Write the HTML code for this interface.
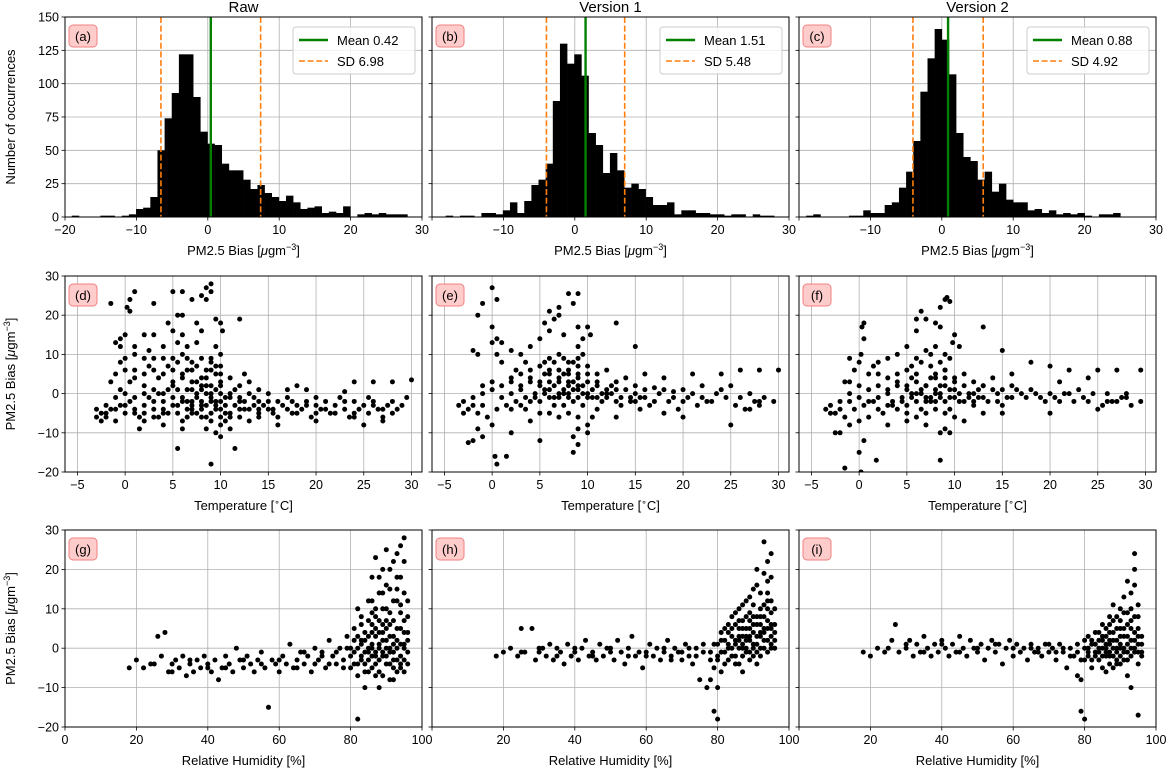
<!DOCTYPE html>
<html><head><meta charset="utf-8"><style>
body{margin:0;background:#fff}
svg{display:block;font-family:"Liberation Sans","DejaVu Sans",sans-serif}
</style></head><body>
<svg id="fig" width="1168" height="770"></svg>
<script>
// ===== data =====
const histStart=[-19.05,-18.08,-19.0];
const histA=[1,0,0,0,1,1,0,1,2,6,7,15,50,74,93,122,122,90,64,55,54,40,35,35,28,21,24,18,15,12,16,11,6,7,8,3,4,3,8,0,2,3,2,3,2,2,2];
const histB=[1,0,1,1,0,3,3,2,5,11,3,12,24,28,40,87,130,115,122,106,63,54,33,48,35,22,25,21,15,9,9,11,2,5,5,3,3,2,2,1,2,2,0,2,1,1];
const histC=[1,2,0,0,0,0,1,1,5,3,3,9,11,22,34,57,94,119,141,133,107,63,45,42,28,34,19,25,13,11,11,5,6,3,5,2,3,2,3,1,0,2,2,3];
const means=[0.42,1.51,0.88];
const sds=[6.98,5.48,4.92];
const titles=["Raw","Version 1","Version 2"];
const ptsD=[[0.5,24],[1,26],[-1.5,23],[0.2,22],[0.5,21],[3,23],[5,26],[6,26],[7,24],[8,25],[8.5,27],[9,28],[8.5,24],[9,26],[6,20],[7.5,18],[5.5,20],[4.5,18],[8,16],[9.5,19],[12,19],[10,18],[10.2,16],[5,16],[6,15],[3,15],[2,15],[0,15],[-0.5,14],[-1,13],[-0.5,12],[1,12],[2.5,11],[4,12],[5.5,13],[6.5,12],[7.5,13],[9.5,12],[10,10],[0,9],[1,10],[-0.5,8],[2,9],[3,9],[4,9],[5,9],[6,10],[6.5,9],[7,8],[8,9],[9,8],[10,7],[-1.5,3],[-1,5],[0,6],[1,4],[2,5],[3,6],[4,5],[5,6],[6,5],[7,6],[8,4],[9,6],[10,3],[11,4],[12,2],[13,3],[14,1],[12.5,5],[15,0],[17,1],[18,2],[20,-1],[19,1],[17.5,-2],[24,3],[26,3],[28,3],[30,3.5],[23,0.5],[25.5,-1],[-3,-4],[-2.5,-5],[-2,-3],[-2,-6],[-1.5,-4],[-1,-7],[-0.5,-3],[0,-5],[0.5,-2],[1,-4],[1.5,-6],[2,-3],[2.5,-1],[3,-4],[3.5,-6],[4,-2],[4.5,-5],[5,-1],[5.5,-3],[6,-7],[6.5,-2],[7,-4],[7.5,0],[8,-3],[8.5,-6],[9,-1],[9.5,-4],[10,-2],[10.5,-5],[11,-1],[11.5,-3],[12,-6],[12.5,-2],[13,-4],[13.5,-1],[14,-5],[14.5,-3],[15,-2],[15.5,-4],[16,-6],[16.5,-3],[17,-1],[17.5,-5],[18,-3],[18.5,-4],[19,-2],[19.5,-6],[20,-3],[20.5,-4],[21,-2],[21.5,-5],[22,-3],[22.5,-1],[23,-4],[23.5,-6],[24,-2],[24.5,-4],[25,-3],[25.5,-5],[26,-2],[26.5,-4],[27,-6],[27.5,-3],[28,-5],[28.5,-4],[29,-3],[29.5,-1],[6,-1],[7,-2],[8,1],[9,-2],[10,0],[6.5,1],[7.5,3],[8.5,2],[9.5,-3],[5,2],[4,0],[3,1],[2,0],[1,-1],[0,0],[-1,-1],[7,-5],[8,-6],[9,-7],[10,-8],[11,-9],[8.5,-9],[9.5,-10],[6,-9],[4,-8],[2,-7],[-2.5,-7],[1.5,-9],[5.5,-14],[9,-18],[11.5,-14],[10,-11],[10.5,-7],[11,-6],[12,-4],[13,-7],[14,-6],[16,-8],[20,-7],[25,-8],[27,-7],[24,-6],
[3,-2],[3.5,0],[4,-4],[4.5,1],[5,-3],[5,3],[5.5,-5],[5.5,1],[6,-2],[6,4],[6.5,-4],[6.5,-6],[7,1],[7,-3],[7,3],[7.5,-5],[7.5,-1],[8,-2],[8,2],[8,-4],[8.5,0],[8.5,-3],[8.5,4],[9,-5],[9,2],[9,0],[9.5,-2],[9.5,1],[9.5,5],[10,-4],[10,-6],[10,2],[10.5,-1],[10.5,-3],[11,0],[11,-5],[11.5,1],[12,-2],[12.5,-4],[13,0],[13.5,-3],[14,-2],[15,-4],[15.5,-5],[16,-2],[17,-4],[18,-5],[19,-3],[20,-5],[21,-4],[22,-5],[23,-2],[24,-5],[26,-3],[27,-4],[28,-2],[2,2],[1,6],[0.5,3],[-0.5,1],[2.5,7],[3.5,4],[4.5,7],[5.5,8],[6.5,6],[7.5,7],[8.5,6],[9,9],[9.5,7],[10,5],[-1,-4],[-2,-5],[-3,-6],[0,-3],[1,-5],[2,-5],[3,-6],[4,-5],[12,-1],[14,-4]];
const ptsE=[[0,27],[-1,23],[0.5,24],[-1.5,20],[0,17],[0.5,14],[1,13],[0,13],[-2,11],[-1.5,10],[0.5,10],[1,8],[6,21],[7,22],[8,25.5],[9,25.5],[8.5,23],[7,20],[6.5,19],[5.5,18],[6,16],[9,17],[10,17],[10.3,15],[7.5,15],[9.5,14],[13,18],[15,12],[5,14],[4,12],[3,10],[2,11],[2.5,6],[3.5,8],[5,7],[6,9],[7,10],[8,8],[9,9],[10,7],[11,5],[12,6],[13,3],[14,4],[16,5],[18,4],[21,5],[24,5],[26,6],[28,6],[30,6],[25,2],[22,2],[20,1],[19,0.5],[17,1.5],[15,0],[13.5,-1],[12,1],[11,2],[10,3],[9,4],[8,5],[7,4],[6,3],[5,2],[4,3],[3,1],[2,0],[1,2],[0,1],[-1,0],[-2,-1],[-3,-2],[-3.5,-3],[-2.5,-4],[-1.5,-5],[-0.5,-6],[0.5,-4],[1.5,-3],[2.5,-2],[3.5,-4],[4.5,-1],[5.5,0],[6.5,-1],[7.5,1],[8.5,-2],[9.5,0],[10.5,-1],[11.5,-2],[12.5,0],[13.5,-3],[14.5,-2],[15.5,-1],[16.5,-3],[17.5,0],[18.5,-2],[19.5,-4],[20.5,-1],[21.5,-3],[22.5,-2],[23.5,0],[24.5,-1],[25.5,-3],[26.5,-4],[27.5,-2],[28.5,-1],[29.5,-2],[25,-8],[27,-4],[28,-3],[6,1],[7,0],[8,2],[9,1],[10,-1],[7,6],[8,3],[9,2],[6,5],[7.5,-3],[8,-5],[9,-6],[10,-8],[9,-9],[8.5,-11],[9,-13],[10,-10],[4,-7],[2,-10],[0,-8],[-1,-11],[-2,-12],[-2.5,-12.5],[-1.5,-9],[0.3,-16],[0.5,-18],[1.5,-16],[5,-12],[8.5,-15],[10.5,-6],[11,-4],[13,-6],[15.5,-4],[20,-6],[18,-5],
[3,2],[3.5,-1],[4,4],[4.5,0],[5,3],[5,-2],[5.5,5],[5.5,1],[6,-1],[6,6],[6.5,2],[6.5,-3],[7,3],[7,-1],[7.5,5],[7.5,0],[8,-1],[8,6],[8,0],[8.5,3],[8.5,1],[9,-1],[9,5],[9,7],[9.5,2],[9.5,-3],[10,0],[10,5],[10.5,1],[11,-1],[11,3],[11.5,0],[12,-1],[12.5,2],[13,-2],[14,1],[14.5,-1],[15,2],[16,-1],[17,-2],[18,1],[19,-1],[20,-2],[21,0],[22,-1],[23,-2],[24,1],[26,-1],[27,0],[28,-2],[2,4],[1,-1],[0,3],[-1,2],[-2,-3],[-3,-5],[-1,-3],[2,-4],[3,-3],[4,-2],[5,-5],[6,-5],[7,-6],[4,6],[3,5],[2,3],[5.5,8],[6.5,8],[7.5,9],[8.5,8],[9,12],[9.5,10],[12,0],[13,1],[15,-2],[16,1]];
const ptsF=[[-1,9],[-0.5,6],[-1.5,3],[0,8],[0.2,10],[0.5,14],[0.3,17],[0.5,18],[1,5],[1.5,7],[2,8],[3,9],[4,10],[5,12],[6,16],[6,19],[6.5,21],[7,19],[8,18],[8.5,17],[8.5,22],[9,24],[9.2,24.5],[9.5,23.5],[10,15],[9.8,13],[10.5,12],[8,12],[7.5,10],[7,11],[6,9],[5,6],[13,17],[15,11],[18,8],[20,7],[22,6],[25,6],[27,6],[29.5,6],[24,4],[21,3],[16,5],[14,4],[13,2],[12,3],[11,5],[10,4],[9,6],[8,4],[7,2],[6,3],[5,1],[4,2],[3,0],[2,-1],[1,1],[0,-1],[-1,0],[-2,-2],[-3,-3],[-3.5,-4],[-2.5,-5],[-1.5,-6],[-0.5,-4],[0.5,-3],[1.5,-2],[2.5,-5],[3.5,-3],[4.5,-2],[5.5,-1],[6.5,0],[7.5,-2],[8.5,0],[9.5,-1],[10.5,-2],[11.5,0],[12.5,-1],[13.5,-2],[14.5,0],[15.5,-1],[16.5,1],[17.5,-1],[18.5,0],[19.5,-2],[20.5,-1],[21.5,0],[22.5,-2],[23.5,-1],[24.5,0],[25.5,-3],[26.5,-2],[27.5,-1],[28.5,-3],[29.5,-2],[28,-1],[25,-4],[26,-2],[9,2],[8,1],[7,-1],[6,0],[10,1],[8,-4],[9,-5],[10,-6],[9,-9],[8.5,-10],[9.5,-10],[7,-8],[5,-7],[3,-8],[1,-6],[0,-7],[-1,-8],[-2,-10],[-2.5,-10],[0,-15],[0.5,-12],[-1.5,-19],[0.2,-20],[1.8,-17],[8.5,-17],[11,-7],[13,-5],[15,-5],[20,-5],[12,-3],
[3,1],[3.5,-2],[4,3],[4.5,-1],[5,2],[5,-3],[5.5,4],[5.5,0],[6,-2],[6,5],[6.5,1],[6.5,-4],[7,2],[7,-2],[7.5,4],[7.5,-1],[8,-2],[8,5],[8,0],[8.5,2],[8.5,-1],[9,-2],[9,4],[9,6],[9.5,1],[9.5,-4],[10,-1],[10,3],[10.5,0],[11,-2],[11,2],[11.5,-1],[12,0],[12.5,1],[13,-1],[14,1],[14.5,-2],[15,1],[16,-1],[17,0],[18,1],[19,-1],[20,0],[21,-2],[22,0],[23,1],[24,-2],[26,0],[27,-2],[28,0],[2,2],[1,-2],[0,2],[-1,3],[-2,-4],[-3,-5],[-1,-2],[2,-4],[3,-3],[4,-4],[5,-5],[6,-6],[7,-5],[4,5],[3,4],[2,5],[5.5,7],[6.5,8],[7.5,7],[8.5,8],[9,10],[9.5,9],[12,-2],[13,2],[15,-3],[16,2]];
const ptsG=[[18,-5],[20,-3],[22,-5],[24,-4],[26,3],[27,-2],[28,4],[29,-6],[30,-4],[31,-3],[32,-5],[33,-2],[34,-7],[35,-4],[36,-6],[37,-3],[38,-5],[39,-2],[40,-4],[41,-6],[42,-3],[43,-8],[44,-5],[45,-2],[46,-4],[47,-6],[48,0],[49,-3],[50,-5],[51,-2],[52,-4],[53,-6],[54,-3],[55,-1],[56,-5],[57,-15],[58,-3],[59,-4],[60,-6],[61,-2],[62,-4],[63,1],[64,-5],[65,-3],[66,-1],[67,-4],[68,-2],[69,-6],[70,0],[71,-3],[72,-1],[73,-5],[74,2],[75,-2],[76,-4],[77,0],[78,-3],[79,3],[80,-2],[81,-4],[81,5],[82,0],[82,10],[83,-3],[83,6],[84,2],[84,-6],[85,12],[85,-1],[86,4],[86,18],[86,-5],[87,-2],[87,8],[87,23],[88,1],[88,14],[88,-3],[89,6],[89,-7],[89,20],[90,0],[90,10],[90,25],[90,-4],[91,3],[91,15],[91,-8],[92,7],[92,-1],[92,22],[92,-5],[93,2],[93,12],[93,-3],[93,18],[94,5],[94,-2],[94,26],[94,9],[95,0],[95,14],[95,-6],[95,28],[95,4],[96,2],[96,-1],[84,-10],[82,-18],[88,-10],[86,9],[89,2],[91,-1],[92,1],[93,-6],[94,-4],[90,5],[87,3],[85,0],[83,2],[96,8],[91,6],[89,-2],[88,4],[87,-4],[86,1],
[80,0],[80,-5],[81,-1],[81,2],[82,-4],[82,3],[82,-7],[83,1],[83,-2],[83,8],[84,-1],[84,4],[84,-4],[85,3],[85,-3],[85,7],[85,-6],[86,0],[86,-2],[86,6],[86,12],[87,-1],[87,5],[87,10],[87,-7],[88,0],[88,7],[88,-6],[88,18],[89,-1],[89,4],[89,10],[89,14],[90,2],[90,-2],[90,7],[90,16],[91,0],[91,-4],[91,9],[91,20],[92,3],[92,-3],[92,12],[92,-8],[93,0],[93,5],[93,15],[93,24],[94,1],[94,-5],[94,11],[94,18],[95,1],[95,-3],[95,7],[95,22],[96,4],[96,-4],[96,12],[70,-4],[72,-2],[74,-4],[76,-1],[78,-5],[79,0],[65,-5],[67,-1],[60,-3],[55,-4],[50,-3],[45,-5],[40,-5],[35,-3],[30,-6],[25,-4]];
const ptsH=[[18,-2],[20,-1],[22,0],[24,-2],[25,5],[26,-1],[28,5],[29,-3],[30,-1],[31,0],[32,-2],[33,1],[34,-3],[35,0],[36,-1],[37,-4],[38,1],[39,-2],[40,-1],[41,-3],[42,0],[43,2],[44,-2],[45,-1],[46,-3],[47,1],[48,-2],[49,0],[50,-1],[51,-3],[52,2],[53,-1],[54,-4],[55,0],[56,3],[57,-2],[58,-1],[59,-5],[60,-1],[61,1],[62,-2],[63,0],[64,-3],[65,-1],[66,2],[67,-2],[68,0],[69,-1],[70,-3],[71,1],[72,-2],[73,-4],[74,0],[75,-8],[76,-1],[77,-10],[78,-3],[79,1],[79,-16],[80,-2],[80,-18],[81,-6],[81,2],[82,-1],[82,5],[83,-3],[83,4],[84,8],[84,0],[85,-2],[85,6],[86,2],[86,-4],[86,10],[87,0],[87,7],[87,3],[88,12],[88,-1],[88,5],[89,2],[89,9],[89,-3],[90,4],[90,15],[90,0],[91,6],[91,1],[91,20],[92,3],[92,10],[92,-2],[93,8],[93,27],[93,2],[94,5],[94,14],[94,-1],[94,22],[95,3],[95,9],[95,0],[95,18],[96,6],[96,2],[90,8],[89,5],[88,2],[87,-6],[86,5],[85,2],[84,3],[83,0],[91,-4],[92,6],[93,4],[94,12],[95,5],
[80,1],[80,-3],[81,-1],[81,4],[82,2],[82,-4],[83,1],[83,6],[84,-2],[84,5],[85,1],[85,-4],[85,9],[86,0],[86,3],[86,7],[87,-2],[87,1],[87,5],[87,11],[88,0],[88,3],[88,8],[89,-1],[89,3],[89,7],[89,13],[90,1],[90,-2],[90,6],[90,11],[91,3],[91,-1],[91,8],[91,16],[92,0],[92,4],[92,8],[92,14],[93,0],[93,5],[93,11],[93,19],[94,2],[94,7],[94,10],[94,17],[95,1],[95,6],[95,12],[95,24],[96,4],[96,0],[96,10],[70,-1],[72,0],[74,-2],[76,1],[78,-1],[79,-5],[65,0],[67,-3],[60,-2],[55,-2],[50,0],[45,-2],[40,0],[35,-2],[30,0],[25,-1],[78,-8],[80,-10]];
const ptsI=[[18,-1],[20,-2],[22,0],[24,-1],[26,2],[27,6],[28,-1],[30,0],[31,2],[32,-2],[33,1],[34,-1],[35,3],[36,0],[37,-2],[38,1],[39,-1],[40,2],[41,0],[42,-2],[43,1],[44,-1],[45,3],[46,0],[47,-2],[48,2],[49,0],[50,-1],[51,1],[52,-3],[53,0],[54,2],[55,-1],[56,1],[57,-4],[58,0],[59,2],[60,-2],[61,1],[62,-1],[63,0],[64,-3],[65,1],[66,-1],[67,0],[68,-2],[69,1],[70,-1],[71,0],[72,-3],[73,1],[74,-1],[75,-5],[76,0],[77,-2],[78,1],[78,-7],[79,-3],[79,-16],[80,-18],[80,0],[81,-2],[81,3],[82,-5],[82,1],[83,-1],[83,4],[84,0],[84,-3],[85,2],[85,6],[86,-1],[86,3],[86,-6],[87,1],[87,8],[87,-2],[88,4],[88,0],[88,11],[89,-1],[89,5],[89,2],[90,0],[90,7],[90,-4],[91,3],[91,13],[91,-1],[92,1],[92,6],[92,17],[93,-2],[93,2],[93,10],[93,-10],[94,4],[94,20],[94,24],[94,0],[95,-1],[95,8],[95,3],[95,-17],[96,1],[96,-2],[90,3],[89,-3],[88,-5],[87,4],[86,1],[85,-2],[84,2],[92,-3],
[80,2],[80,-3],[81,-1],[81,0],[82,2],[82,-3],[83,-2],[83,1],[84,-1],[84,4],[85,0],[85,-5],[85,3],[86,-2],[86,0],[86,5],[87,-1],[87,2],[87,-4],[87,6],[88,-2],[88,2],[88,7],[89,0],[89,-4],[89,8],[90,1],[90,-2],[90,5],[90,10],[91,0],[91,-3],[91,5],[91,9],[92,-1],[92,3],[92,9],[92,-7],[93,0],[93,5],[93,7],[93,14],[94,-1],[94,2],[94,8],[94,16],[95,1],[95,-4],[95,11],[95,5],[96,-1],[96,3],[70,1],[72,-1],[74,0],[76,-2],[78,-1],[79,-8],[65,0],[67,-1],[60,0],[55,1],[50,0],[45,-1],[40,1],[35,-1],[30,1],[25,0]];
const histTicksX=[-20,-10,0,10,20,30];
const histTicksY=[0,25,50,75,100,125,150];
const tempTicks=[-5,0,5,10,15,20,25,30];
const rhTicks=[0,20,40,60,80,100];
const biasTicks=[-20,-10,0,10,20,30];

// ===== drawing =====
const NS="http://www.w3.org/2000/svg";
const svg=document.getElementById('fig');
function mk(tag,attrs,parent,text){const e=document.createElementNS(NS,tag);for(const k in attrs)e.setAttribute(k,attrs[k]);if(text!==undefined)e.textContent=text;(parent||svg).appendChild(e);return e;}
const colX=[65,432,799], W=357;
const rows=[{top:17,h:200},{top:276,h:196},{top:530,h:197}];
const letters=["a","b","c","d","e","f","g","h","i"];

function panel(r,c,xmin,xmax,ymin,ymax,xt,yt,xlabel,ylabel,showYLabels,hideFirstX){
  const L=colX[c],T=rows[r].top,H=rows[r].h;
  const sx=v=>L+(v-xmin)/(xmax-xmin)*W, sy=v=>T+H-(v-ymin)/(ymax-ymin)*H;
  const g=mk('g',{});
  
  
  const clipId='clip'+r+c;
  const cp=mk('clipPath',{id:clipId},g);mk('rect',{x:L,y:T,width:W,height:H},cp);
  xt.forEach((v,i)=>{const x=sx(v);
    const gl=mk('line',{x1:x,x2:x,y1:T,y2:T+H,stroke:'#b0b0b0','stroke-width':0.8},g);
    
    mk('line',{x1:x,x2:x,y1:T+H,y2:T+H+3.5,stroke:'#000','stroke-width':0.8},g);
    if(!(hideFirstX&&i===0)){const t=mk('text',{x:x,y:T+H+17,'text-anchor':'middle','font-size':12.5},g,String(v).replace('-','\u2212'));
      }
  });
  yt.forEach(v=>{const y=sy(v);
    const gl=mk('line',{x1:L,x2:L+W,y1:y,y2:y,stroke:'#b0b0b0','stroke-width':0.8},g);
    
    mk('line',{x1:L-3.5,x2:L,y1:y,y2:y,stroke:'#000','stroke-width':0.8},g);
    if(showYLabels){const t=mk('text',{x:L-6,y:y+4.5,'text-anchor':'end','font-size':12.5},g,String(v).replace('-','\u2212'));
      }
  });
  const content=mk('g',{'clip-path':'url(#'+clipId+')'},g);
  const xl=mk('text',{x:L+W/2,y:T+H+38,'text-anchor':'middle','font-size':13},g);
  
  xl.innerHTML=xlabel;
  if(ylabel){const yl=mk('text',{x:0,y:0,'text-anchor':'middle','font-size':13,transform:`translate(${L-50},${T+H/2}) rotate(-90)`},g);
    yl.innerHTML=ylabel;}
  return {g,content,sx,sy,L,T,H,
    finish(){
      const fr=mk('rect',{x:L,y:T,width:W,height:H,fill:'none',stroke:'#000','stroke-width':1},g);
      
      const lb=mk('g',{},g);
      
      mk('rect',{x:L+4,y:T+8,width:28,height:22,rx:4,fill:'#ffcccc',stroke:'#f08080','stroke-width':1},lb);
      mk('text',{x:L+18,y:T+24,'text-anchor':'middle','font-size':13},lb,'('+letters[r*3+c]+')');
    }};
}
const biasLbl='PM2.5 Bias [<tspan font-style="italic">μ</tspan>gm<tspan baseline-shift="super" font-size="9">−3</tspan>]';
[histA,histB,histC].forEach((counts,c)=>{
  const p=panel(0,c,-20,30,0,150,histTicksX,histTicksY,biasLbl,c===0?'Number of occurrences':null,c===0,c!==0);
  counts.forEach((n,i)=>{if(n<=0)return;const x0=histStart[c]+i,x1=x0+1;
    const b=mk('rect',{x:p.sx(x0),y:p.sy(n),width:p.sx(x1)-p.sx(x0)+0.3,height:p.sy(0)-p.sy(n),fill:'#000'},p.content);
    
  });
  const m=means[c],s=sds[c];
  [m-s,m+s].forEach(v=>{const l=mk('line',{x1:p.sx(v),x2:p.sx(v),y1:p.T,y2:p.T+p.H,stroke:'#ff7f0e','stroke-width':1.6,'stroke-dasharray':'6,2.6'},p.content);
    });
  const ml=mk('line',{x1:p.sx(m),x2:p.sx(m),y1:p.T,y2:p.T+p.H,stroke:'#008000','stroke-width':2.4},p.content);
  
  const tt=mk('text',{x:p.L+W/2,y:12,'text-anchor':'middle','font-size':15},p.g,titles[c]);
  
  p.finish();
  const lg=mk('g',{},p.g);
  
  const lx=p.L+228;
  mk('rect',{x:lx,y:p.T+10,width:122,height:47,rx:3,fill:'#fff','fill-opacity':0.8,stroke:'#ccc'},lg);
  mk('line',{x1:lx+6,x2:lx+35,y1:p.T+23,y2:p.T+23,stroke:'#008000','stroke-width':2.4},lg);
  const e1=mk('text',{x:lx+44,y:p.T+28,'font-size':13},lg,'Mean '+m.toFixed(2));
  
  mk('line',{x1:lx+6,x2:lx+35,y1:p.T+44,y2:p.T+44,stroke:'#ff7f0e','stroke-width':1.6,'stroke-dasharray':'6,2.6'},lg);
  const e2=mk('text',{x:lx+44,y:p.T+49,'font-size':13},lg,'SD '+s.toFixed(2));
  
});
function scatter(r,c,pts,xmin,xmax,xt,xlabel){
  const p=panel(r,c,xmin,xmax,-20,30,xt,biasTicks,xlabel,c===0?biasLbl:null,c===0,r===2&&c!==0);
  pts.forEach(([x,y])=>{const d=mk('circle',{cx:p.sx(x),cy:p.sy(y),r:2.5,fill:'#000'},p.content);
    });
  p.finish();
}
const tLbl='Temperature [<tspan baseline-shift="super" font-size="9">∘</tspan>C]';
scatter(1,0,ptsD,-6.3,31.1,tempTicks,tLbl);
scatter(1,1,ptsE,-6.3,31.1,tempTicks,tLbl);
scatter(1,2,ptsF,-6.3,31.1,tempTicks,tLbl);
scatter(2,0,ptsG,0,100,rhTicks,'Relative Humidity [%]');
scatter(2,1,ptsH,0,100,rhTicks,'Relative Humidity [%]');
scatter(2,2,ptsI,0,100,rhTicks,'Relative Humidity [%]');
</script>
</body></html>
